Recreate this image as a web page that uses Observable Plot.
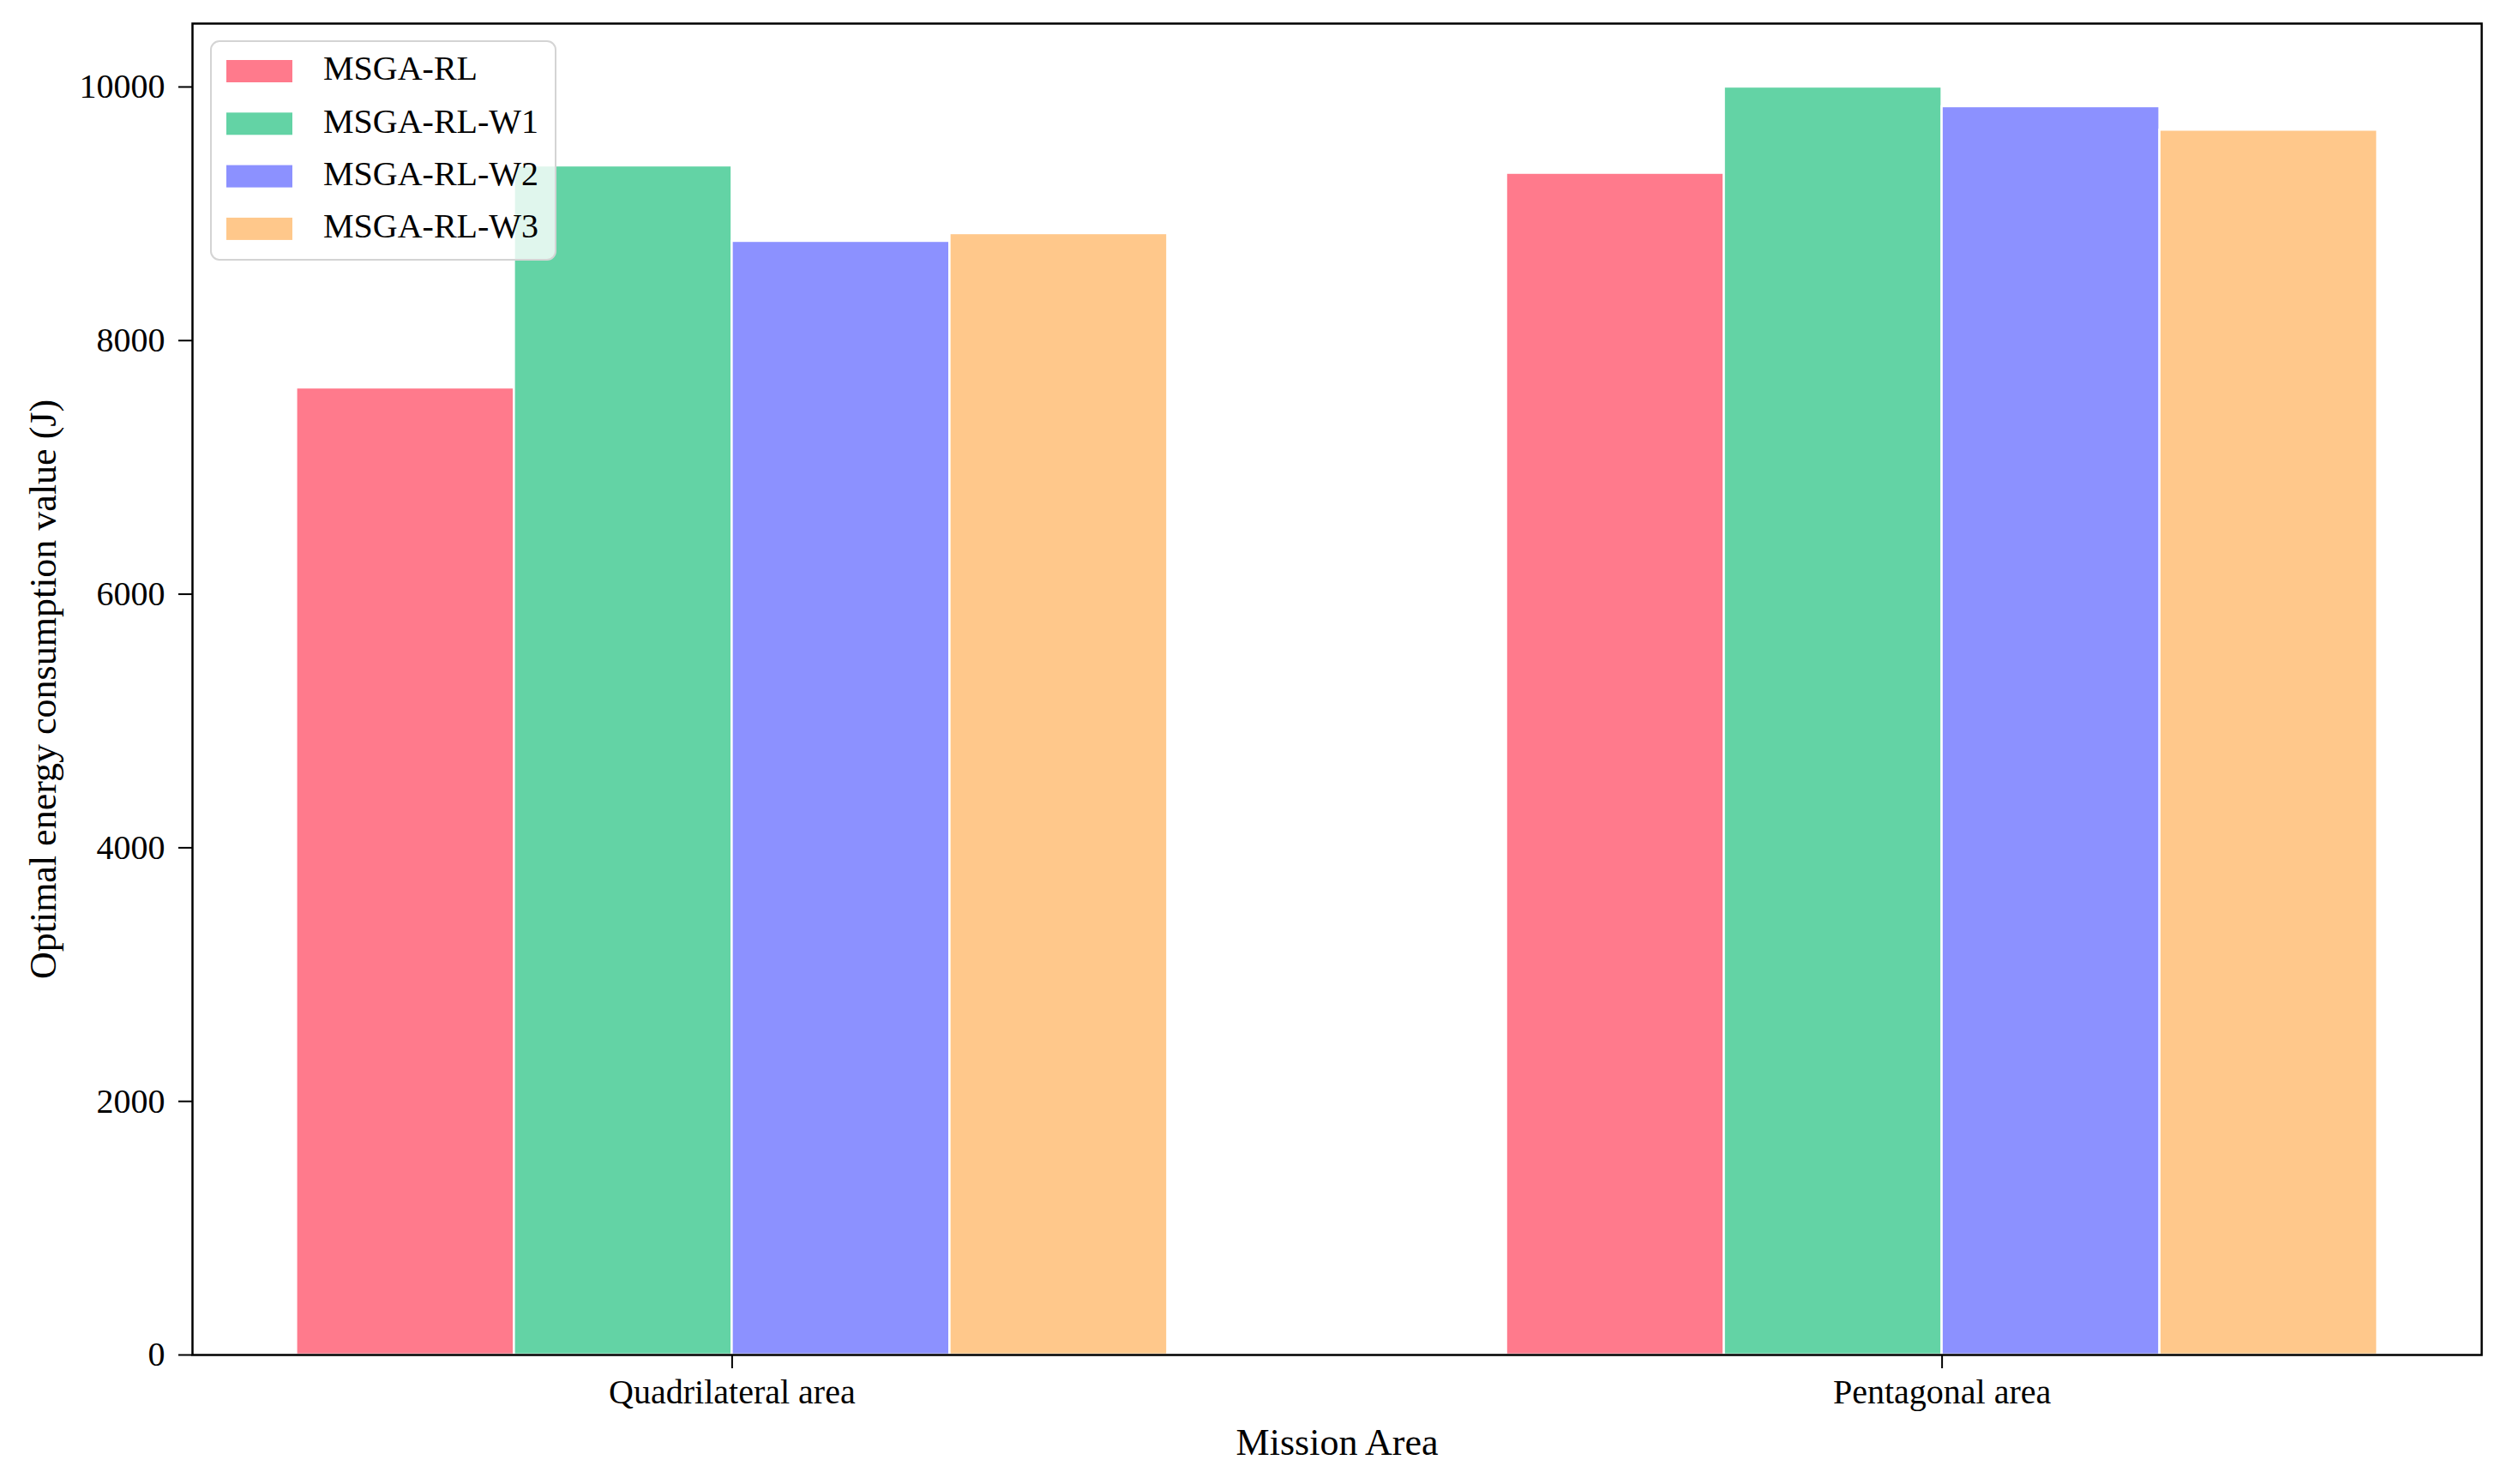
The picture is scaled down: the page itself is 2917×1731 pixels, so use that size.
<!DOCTYPE html>
<html>
<head>
<meta charset="utf-8">
<script src="https://cdn.jsdelivr.net/npm/d3@7"></script>
<script src="https://cdn.jsdelivr.net/npm/@observablehq/plot@0.6"></script>
<style>
  html, body { margin: 0; padding: 0; background: white; }
  #wrap { position: relative; width: 2917px; height: 1731px; }
  #legend { position: absolute; left: 0; top: 0; pointer-events: none; }
</style>
</head>
<body>
<div id="wrap"></div>
<script>
const categories = ["Quadrilateral area", "Pentagonal area"];
const methods = ["MSGA-RL", "MSGA-RL-W1", "MSGA-RL-W2", "MSGA-RL-W3"];
const valuesQuadrilateral = [7627, 9378, 8783, 8844];
const valuesPentagonal = [9320, 10000, 9845, 9660];
const colors = ["#ff7a8c", "#63d3a5", "#8c91ff", "#ffc88b"];
const yTicks = [0, 2000, 4000, 6000, 8000, 10000];
const xLabel = "Mission Area";
const yLabel = "Optimal energy consumption value (J)";

const barWidth = 0.18;
const seriesByCategory = [valuesQuadrilateral, valuesPentagonal];
const table = [];
seriesByCategory.forEach((vals, ci) => {
  vals.forEach((v, mi) => {
    const x1 = ci + (mi - 2) * barWidth;
    table.push({category: categories[ci], method: methods[mi], value: v, x1, x2: x1 + barWidth});
  });
});

const font = "'Liberation Serif', 'Times New Roman', serif";

const chart = Plot.plot({
  width: 2917,
  height: 1731,
  marginLeft: 224,
  marginRight: 23,
  marginTop: 27,
  marginBottom: 151,
  style: {fontFamily: font, fontSize: "40px", color: "black", background: "white"},
  x: {domain: [-0.446, 1.446]},
  y: {domain: [0, 10500]},
  color: {domain: methods, range: colors},
  marks: [
    Plot.rectY(table, {x1: "x1", x2: "x2", y1: 0, y2: "value", fill: "method", stroke: "white", strokeWidth: 2.5}),
    Plot.axisY({ticks: yTicks, tickSize: 16, tickPadding: 16, tickFormat: d => String(d), fontSize: 40, label: null, strokeWidth: 2}),
    Plot.axisX({ticks: [0, 1], tickFormat: i => categories[i], tickSize: 16, tickPadding: 12, fontSize: 40, label: null, strokeWidth: 2}),
    Plot.frame({stroke: "black", strokeWidth: 2.5}),
    Plot.text([xLabel], {frameAnchor: "bottom", text: d => d, dy: 102, fontSize: 44, lineAnchor: "middle", textAnchor: "middle", fill: "black"}),
    Plot.text([yLabel], {frameAnchor: "left", text: d => d, dx: -174, rotate: -90, fontSize: 44, lineAnchor: "middle", textAnchor: "middle", fill: "black"})
  ]
});

document.getElementById("wrap").appendChild(chart);

// Legend overlay
const leg = d3.select("#wrap").append("svg")
  .attr("id", "legend")
  .attr("width", 2917).attr("height", 1731);
leg.append("rect")
  .attr("x", 246).attr("y", 48).attr("width", 402).attr("height", 255)
  .attr("rx", 10).attr("ry", 10)
  .attr("fill", "white").attr("fill-opacity", 0.8)
  .attr("stroke", "#d4d4d4").attr("stroke-width", 2);
methods.forEach((m, i) => {
  leg.append("rect")
    .attr("x", 264).attr("y", 70 + 61.3 * i).attr("width", 77).attr("height", 26)
    .attr("fill", colors[i]);
  leg.append("text")
    .attr("x", 377).attr("y", 93.3 + 61.3 * i)
    .attr("font-family", font).attr("font-size", 40).attr("fill", "black")
    .text(m);
});
</script>
</body>
</html>
